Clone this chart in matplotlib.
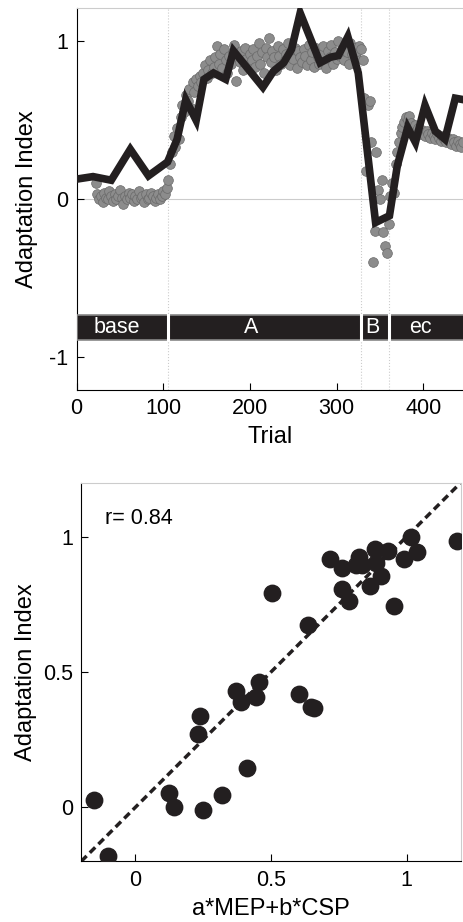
import numpy as np
import matplotlib
matplotlib.use("Agg")
import matplotlib.pyplot as plt

plt.rcParams['font.family'] = ['Liberation Sans', 'DejaVu Sans']
plt.rcParams['axes.unicode_minus'] = False

# ---- top panel: adaptation index per trial ----
# gray dots, one every 2 trials, per phase
base_start = 22
base_ai = [0.10, 0.03, 0.00, 0.02, -0.02, 0.04, 0.01, 0.00, 0.05, 0.02,
           -0.01, 0.03, 0.00, 0.02, 0.06, 0.01, -0.03, 0.02, 0.00, 0.04,
           0.01, 0.03, -0.01, 0.02, 0.00, 0.05, 0.01, 0.02, -0.02, 0.03,
           0.00, 0.01, 0.04, 0.02, -0.01, 0.01, 0.03, 0.00, 0.02, 0.05,
           0.03, 0.07]
a_start = 106
a_ai = [0.12, 0.22, 0.30, 0.40, 0.33, 0.45, 0.38, 0.52,
        0.60, 0.55, 0.66, 0.62, 0.70, 0.58, 0.74, 0.68, 0.76, 0.72,
        0.78, 0.74, 0.80, 0.85, 0.77, 0.82, 0.88, 0.80, 0.84, 0.90,
        0.97, 0.86, 0.92, 0.83, 0.95, 0.88, 0.80, 0.91, 0.86, 0.93,
        0.98, 0.75, 0.90, 0.87, 0.94, 0.82, 0.96, 0.89, 0.85, 0.92,
        0.88, 0.95, 0.84, 0.91, 0.99, 0.86, 0.93, 0.80, 0.96, 0.90,
        1.02, 0.87, 0.94, 0.90, 0.82, 0.97, 0.91, 0.86, 0.95, 0.88,
        0.92, 0.99, 0.85, 0.93, 0.89, 0.96, 0.83, 0.94, 0.90, 0.87,
        0.95, 0.91, 0.85, 0.98, 0.88, 0.93, 0.84, 0.96, 0.90, 0.86,
        0.92, 0.97, 0.87, 0.83, 0.94, 0.90, 0.98, 0.86, 0.93, 0.89,
        1.00, 0.91, 0.95, 0.88, 0.97, 0.93, 0.86, 0.99, 0.92, 0.96,
        0.90, 0.94, 0.97]
b_start = 328
b_ai = [0.95, 0.88, 0.64, 0.18, 0.60, 0.62, 0.36, -0.40, -0.20, 0.30,
        0.06, 0.00, 0.12, -0.21, -0.30, -0.34, -0.16]
ec_start = 362
ec_ai = [0.02, 0.10, 0.04, 0.22, 0.30, 0.36, 0.42, 0.46, 0.49, 0.52,
         0.50, 0.53, 0.48, 0.45, 0.47, 0.43, 0.45, 0.41, 0.44, 0.42,
         0.40, 0.43, 0.41, 0.39, 0.42, 0.40, 0.38, 0.41, 0.39, 0.37,
         0.40, 0.38, 0.36, 0.39, 0.37, 0.35, 0.38, 0.36, 0.34, 0.37,
         0.35, 0.33, 0.36]

# black line (model prediction)
line_trial = [0, 19, 40, 62, 83, 105, 116, 126, 138, 147, 158, 172, 181,
              215, 227, 239, 248, 258, 281, 293, 302, 313, 325, 345, 361,
              370, 382, 391, 402, 414, 425, 437, 447]
line_ai = [0.127, 0.143, 0.12, 0.316, 0.148, 0.236, 0.38, 0.63, 0.50, 0.76,
           0.80, 0.76, 0.94, 0.71, 0.81, 0.865, 0.95, 1.18, 0.865, 0.90,
           0.91, 1.03, 0.80, -0.148, -0.105, 0.21, 0.454, 0.36, 0.595,
           0.43, 0.38, 0.64, 0.63]

# phases
phase_names = ['base', 'A', 'B', 'ec']
phase_edges = [0, 105, 328, 361, 450]

# ---- bottom panel: prediction vs adaptation ----
pred = [1.015, 1.185, 0.883, 0.932, 1.04, 0.716, 0.824, 0.99, 0.763, 0.815,
        0.834, 0.889, 0.907, 0.763, 0.864, 0.787, 0.953, 0.504, 0.636,
        0.457, 0.370, 0.444, 0.389, 0.605, 0.648, 0.66, 0.237, 0.232,
        0.41, 0.321, 0.123, 0.142, 0.249, -0.154, -0.101]
adapt = [1.00, 0.983, 0.956, 0.948, 0.943, 0.919, 0.927, 0.919, 0.885, 0.894,
         0.894, 0.903, 0.854, 0.807, 0.817, 0.762, 0.744, 0.793, 0.674,
         0.462, 0.431, 0.409, 0.388, 0.419, 0.370, 0.368, 0.336, 0.272,
         0.146, 0.045, 0.051, 0.002, -0.012, 0.027, -0.179]
r_value = 0.84

dark = '#231f20'
light = '#cccccc'
tick_fs = 15.5
label_fs = 17

fig = plt.figure(figsize=(4.64, 9.22), dpi=100)

# top
ax1 = fig.add_axes([0.165, 0.577, 0.835, 0.414])
ax1.axhline(0, color=light, lw=0.8, zorder=0)
for e in phase_edges[1:-1]:
    ax1.axvline(e, color=light, lw=0.8, ls=':', zorder=0)

for start, vals in [(base_start, base_ai), (a_start, a_ai),
                    (b_start, b_ai), (ec_start, ec_ai)]:
    tr = start + 2 * np.arange(len(vals))
    ax1.plot(tr, vals, 'o', ms=7, mfc='#8c8c8c', mec='#6a6a6a', mew=0.5,
             zorder=2)

ax1.plot(line_trial, line_ai, color=dark, lw=5.5, solid_joinstyle='miter',
         zorder=3)

bar_y, bar_h = -0.892, 0.158
ax1.barh(bar_y + bar_h / 2, phase_edges[-1] - phase_edges[0], height=bar_h,
         left=phase_edges[0], color=dark, edgecolor='#888888', lw=1.2,
         zorder=4)
for e in phase_edges[1:-1]:
    ax1.plot([e, e], [bar_y, bar_y + bar_h], color='white', lw=2.2, zorder=5)
label_x = [46, 201, 341, 397]
for name, lx in zip(phase_names, label_x):
    ax1.text(lx, bar_y + bar_h / 2, name, color='white', fontsize=tick_fs,
             ha='center', va='center', zorder=6)

ax1.set_xlim(0, 447)
ax1.set_ylim(-1.21, 1.21)
ax1.set_xticks([0, 100, 200, 300, 400])
ax1.set_yticks([-1, 0, 1])
ax1.set_xlabel('Trial', fontsize=label_fs, labelpad=5)
ax1.set_ylabel('Adaptation Index', fontsize=label_fs)
ax1.yaxis.set_label_coords(-0.10, 0.5)
ax1.spines['right'].set_visible(False)
ax1.spines['top'].set_color(light)
ax1.tick_params(direction='in', length=5, labelsize=tick_fs, pad=6)

# bottom
ax2 = fig.add_axes([0.175, 0.0658, 0.818, 0.4107])
ax2.plot([-0.2, 1.2], [-0.2, 1.2], color=dark, lw=2.5, ls=(0, (2.2, 1.3)),
         zorder=2)
ax2.scatter(pred, adapt, s=140, color=dark, zorder=3)
ax2.text(-0.111, 1.066, 'r= %.2f' % r_value, fontsize=tick_fs, va='center',
         ha='left')
ax2.set_xlim(-0.2, 1.2)
ax2.set_ylim(-0.2, 1.2)
ax2.set_xticks([0, 0.5, 1])
ax2.set_yticks([0, 0.5, 1])
ax2.set_xticklabels(['0', '0.5', '1'])
ax2.set_yticklabels(['0', '0.5', '1'])
ax2.set_xlabel('a*MEP+b*CSP', fontsize=label_fs, labelpad=5)
ax2.set_ylabel('Adaptation Index', fontsize=label_fs)
ax2.yaxis.set_label_coords(-0.117, 0.5)
ax2.spines['right'].set_color(light)
ax2.spines['top'].set_color(light)
ax2.tick_params(direction='in', length=5, labelsize=tick_fs, pad=6)

fig.savefig('out.png', dpi=100)
